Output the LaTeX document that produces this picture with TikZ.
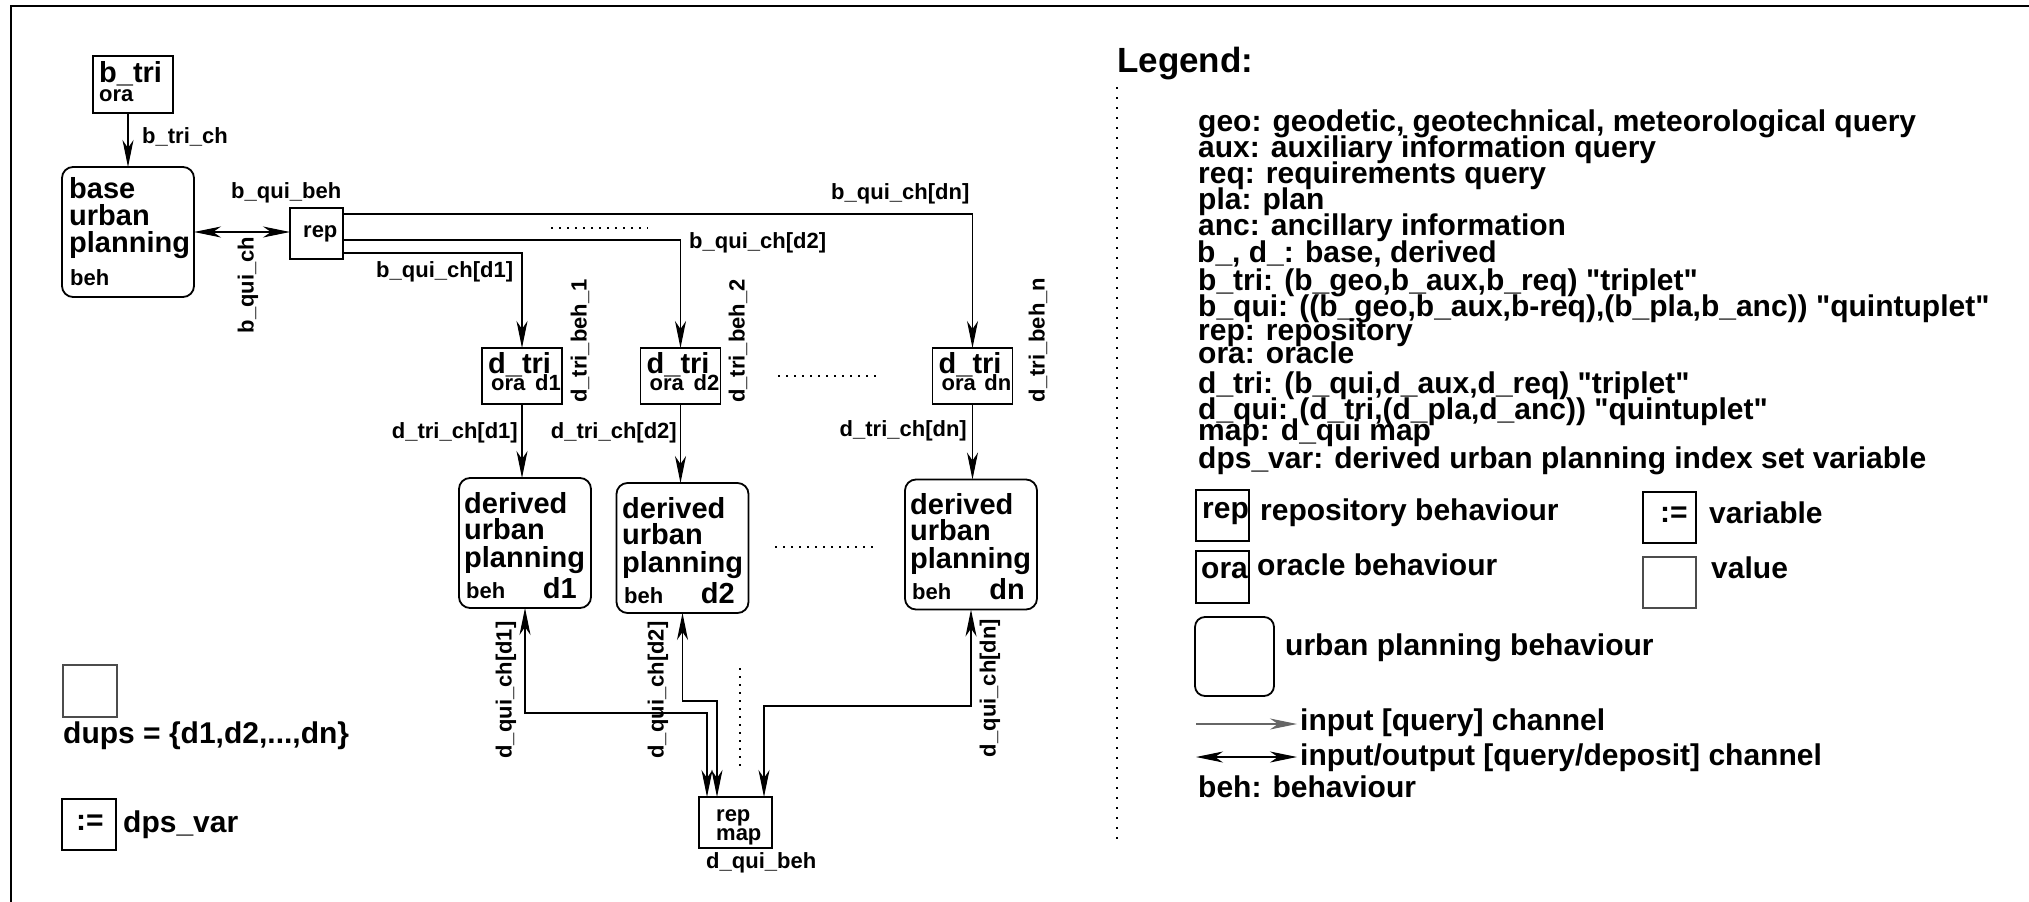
\documentclass[tikz,border=0pt]{standalone}
\usepackage{fontspec}
\setmainfont{Liberation Sans}
\newfontfamily\lib{Liberation Sans}
\usetikzlibrary{arrows.meta}
\newcommand\mysmall{\lib\fontsize{22}{22}\selectfont\bfseries}
\newcommand\mybig{\lib\fontsize{29}{27}\selectfont\bfseries}
\newcommand\myleg{\lib\fontsize{30}{26}\selectfont\bfseries}
\newcommand\mytitle{\lib\fontsize{35}{35}\selectfont\bfseries}
\begin{document}
\begin{tikzpicture}[x=1pt,y=-1pt,
  box/.style={draw, line width=1.8pt, inner sep=0pt, outer sep=0pt},
  rbox/.style={box, rounded corners=11pt},
  vbox/.style={draw=black!70, line width=1.3pt, inner sep=0pt, outer sep=0pt},
  tip/.style={-{Stealth[length=27pt,width=11pt,inset=8pt]}},
  tips/.style={{Stealth[length=27pt,width=11pt,inset=8pt]}-{Stealth[length=27pt,width=11pt,inset=8pt]}},
  conn/.style={line width=1.2pt},
  sl/.style={font=\mysmall, inner sep=0pt, anchor=base west},
  sle/.style={font=\mysmall, inner sep=0pt, anchor=base east},
  bl/.style={font=\mybig, inner sep=0pt, anchor=base west},
  ble/.style={font=\mybig, inner sep=0pt, anchor=base east},
  ll/.style={font=\myleg, inner sep=0pt, anchor=base west},
  rl/.style={font=\mysmall, inner sep=0pt, rotate=90},
  dots/.style={line width=2pt, dash pattern=on 2pt off 6pt},
]
\useasboundingbox (0,0) rectangle (2029,902);
\fill[white] (0,0) rectangle (2029,902);
% frame
\draw[line width=2pt] (11,905) -- (11,6) -- (2032,6);

% ---------- base part ----------
\node[box, minimum width=80pt, minimum height=57pt] (btri) at (133,84.5) {};
\node[bl] (btriT) at (99,82) {b\_tri};
\node[sl] (btriO) at (99,101) {ora};

\node[rbox, minimum width=132pt, minimum height=130pt] (base) at (128,232) {};
\node[bl] (baseA) at (69,198) {base};
\node[bl] (baseB) at (69,225) {urban};
\node[bl] (baseC) at (69,252) {planning};
\node[sl] (baseD) at (70,285) {beh};

\node[box, minimum width=53pt, minimum height=51pt] (rep) at (316.5,233.5) {};
\node[sl] (repT) at (303,237) {rep};

\draw[conn,tip] (base.north |- btri.south) -- (base.north);
\node[sl] (lbtrich) at (142,143) {b\_tri\_ch};
\draw[conn,tips] (base.east) -- (base.east -| rep.west);
\node[sl] (lbquibeh) at (231,198) {b\_qui\_beh};
\node[rl] (lbquich) at (248,285) {b\_qui\_ch};

% ---------- d_tri boxes ----------
\node[box, minimum width=80pt, minimum height=56pt] (dtri1) at (522,376) {};
\node[box, minimum width=80pt, minimum height=56pt] (dtri2) at (680.5,376) {};
\node[box, minimum width=80pt, minimum height=56pt] (dtrin) at (972.5,376) {};
\node[bl] (dtri1T) at (488,373) {d\_tri};
\node[sl] (dtri1O) at (491,390) {ora};
\node[sle] (dtri1D) at (561,390) {d1};
\node[bl] (dtri2T) at (646.5,373) {d\_tri};
\node[sl] (dtri2O) at (649.5,390) {ora};
\node[sle] (dtri2D) at (719.5,390) {d2};
\node[bl] (dtrinT) at (938.5,373) {d\_tri};
\node[sl] (dtrinO) at (941.5,390) {ora};
\node[sle] (dtrinD) at (1011.5,390) {dn};

\draw[conn,tip] ([shift={(0,6)}]rep.north east) -| (dtrin.north);
\draw[conn,tip] ([shift={(0,32)}]rep.north east) -| (dtri2.north);
\draw[conn,tip] ([shift={(0,-6)}]rep.south east) -| (dtri1.north);
\node[sl] (ldn) at (831,199) {b\_qui\_ch[dn]};
\node[sl] (ld2) at (689,248) {b\_qui\_ch[d2]};
\node[sl] (ld1) at (376,277) {b\_qui\_ch[d1]};
\draw[dots] (551,228) -- (648,228);

\node[rl] (ltb1) at (580,341) {d\_tri\_beh\_1};
\node[rl] (ltb2) at (738,341) {d\_tri\_beh\_2};
\node[rl] (ltbn) at (1038,340) {d\_tri\_beh\_n};
\draw[dots] (778,376) -- (876,376);

% ---------- derived boxes ----------
\node[rbox, minimum width=132pt, minimum height=130pt] (der1) at (525,543) {};
\node[rbox, minimum width=132pt, minimum height=130pt] (der2) at (682.5,548) {};
\node[rbox, minimum width=132pt, minimum height=130pt] (dern) at (971,544.5) {};

\node[bl] (der1A) at (464,513) {derived};
\node[bl] (der1B) at (464,539) {urban};
\node[bl] (der1C) at (464,567) {planning};
\node[sl] (der1D) at (466,598) {beh};
\node[ble] (der1E) at (577,598) {d1};

\node[bl] (der2A) at (622,518) {derived};
\node[bl] (der2B) at (622,544) {urban};
\node[bl] (der2C) at (622,572) {planning};
\node[sl] (der2D) at (624,603) {beh};
\node[ble] (der2E) at (735,603) {d2};

\node[bl] (dernA) at (910,514) {derived};
\node[bl] (dernB) at (910,540) {urban};
\node[bl] (dernC) at (910,568) {planning};
\node[sl] (dernD) at (912,599) {beh};
\node[ble] (dernE) at (1025,599) {dn};

\draw[conn,tip] (dtri1.south) -- (dtri1.south |- der1.north);
\draw[conn,tip] (dtri2.south) -- (dtri2.south |- der2.north);
\draw[conn,tip] (dtrin.south) -- (dtrin.south |- dern.north);
\node[sle] (lc1) at (518,438) {d\_tri\_ch[d1]};
\node[sle] (lc2) at (677,438) {d\_tri\_ch[d2]};
\node[sle] (lcn) at (967,436) {d\_tri\_ch[dn]};
\draw[dots] (775,547) -- (875,547);

% ---------- map ----------
\node[box, minimum width=73pt, minimum height=51pt] (map) at (735.5,822.5) {};
\node[sl] (mapA) at (716,821) {rep};
\node[sl] (mapB) at (716,840) {map};
\node[sl] (lmap) at (706,868) {d\_qui\_beh};

\coordinate (j1) at (524,713);
\coordinate (j2) at (683,701);
\coordinate (j3) at (969,706);
\coordinate (m1) at ([xshift=-28.5pt]map.north);
\coordinate (m2) at ([xshift=-18.5pt]map.north);
\coordinate (m3) at ([xshift=28.5pt]map.north);
\draw[conn,tips] (der1.south) -- (der1.south |- j1) -| (m1);
\draw[conn,tips] (der2.south) -- (der2.south |- j2) -| (m2);
\draw[conn,tips] (dern.south) -- (dern.south |- j3) -| (m3);
\draw[dots] (740,668) -- (740,768);
\node[rl] (lq1) at (506,690) {d\_qui\_ch[d1]};
\node[rl] (lq2) at (658,690) {d\_qui\_ch[d2]};
\node[rl] (lqn) at (990,688) {d\_qui\_ch[dn]};

% ---------- dups / dps_var ----------
\node[vbox, minimum width=54pt, minimum height=52pt] (dups) at (90,691) {};
\node[ll] (dupsT) at (63,743) {dups = \{d1,d2,...,dn\}};
\node[box, minimum width=54pt, minimum height=51pt] (var) at (89,824.5) {};
\node[font=\myleg, inner sep=0pt, anchor=base] (varT) at (90,830) {:=};
\node[ll] (varL) at (123,832) {dps\_var};

% ---------- legend ----------
\node[font=\mytitle, inner sep=0pt, anchor=base west] (leg) at (1117,72) {Legend:};
\draw[line width=1.5pt, dash pattern=on 1.5pt off 8.5pt] (1117,87) -- (1117,847);
\node[ll] (g1) at (1198,131) {geo: geodetic, geotechnical, meteorological query};
\node[ll] (g2) at (1198,157) {aux: auxiliary information query};
\node[ll] (g3) at (1198,183) {req: requirements query};
\node[ll] (g4) at (1198,209) {pla: plan};
\node[ll] (g5) at (1198,235) {anc: ancillary information};
\node[ll] (g6) at (1197,262) {b\_, d\_: base, derived};
\node[ll] (g7) at (1198,290) {b\_tri: (b\_geo,b\_aux,b\_req) "triplet"};
\node[ll] (g8) at (1198,316) {b\_qui: ((b\_geo,b\_aux,b-req),(b\_pla,b\_anc)) "quintuplet"};
\node[ll] (g9) at (1198,340) {rep: repository};
\node[ll] (g10) at (1198,363) {ora: oracle};
\node[ll] (g11) at (1198,393) {d\_tri: (b\_qui,d\_aux,d\_req) "triplet"};
\node[ll] (g12) at (1198,419) {d\_qui: (d\_tri,(d\_pla,d\_anc)) "quintuplet"};
\node[ll] (g13) at (1198,440) {map: d\_qui map};
\node[ll] (g14) at (1198,468) {dps\_var: derived urban planning index set variable};

\node[box, minimum width=53pt, minimum height=51pt] (lrep) at (1222.5,515.5) {};
\node[ll] (lrepT) at (1202,518) {rep};
\node[ll] (lrepL) at (1260,520) {repository behaviour};
\node[box, minimum width=53pt, minimum height=51pt] (lvar) at (1669.5,517.5) {};
\node[ll] (lvarT) at (1660,522) {:=};
\node[ll] (lvarL) at (1709,523) {variable};
\node[box, minimum width=53pt, minimum height=52pt] (lora) at (1222.5,577) {};
\node[ll] (loraT) at (1201,578) {ora};
\node[ll] (loraL) at (1257,575) {oracle behaviour};
\node[vbox, minimum width=53pt, minimum height=51pt] (lval) at (1669.5,582.5) {};
\node[ll] (lvalL) at (1711,578) {value};
\node[rbox, rounded corners=10pt, minimum width=79pt, minimum height=79pt] (lup) at (1234.5,656.5) {};
\node[ll] (lupL) at (1285,655) {urban planning behaviour};

\coordinate (a1) at (1196,724);
\coordinate (a2) at (1297,724);
\draw[conn,tip,draw=black!60] (a1) -- (a2);
\node[ll] (la1) at (1300,730) {input [query] channel};
\coordinate (b1) at (1196,757);
\coordinate (b2) at (1297,757);
\draw[conn,tips] (b1) -- (b2);
\node[ll] (la2) at (1300,765) {input/output [query/deposit] channel};
\node[ll] (lbeh) at (1198,797) {beh: behaviour};
\end{tikzpicture}
\end{document}
